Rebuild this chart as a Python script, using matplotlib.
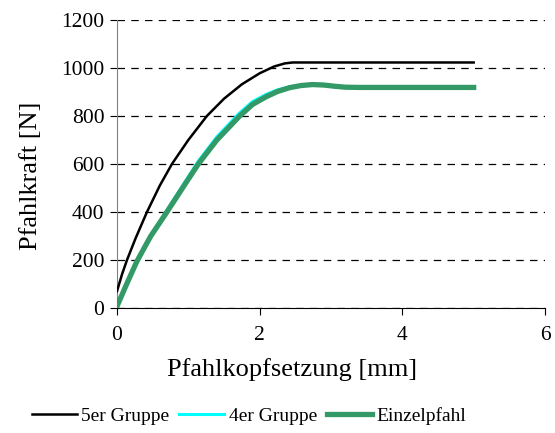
import matplotlib
matplotlib.use("Agg")
import matplotlib.pyplot as plt

plt.rcParams['font.family'] = ['Liberation Serif', 'DejaVu Serif']

# Load-settlement curves (settlement in mm, force in N)
x_5er = [0, 0.07, 0.14, 0.26, 0.42, 0.6, 0.77, 1.0, 1.26, 1.5, 1.75, 2.0, 2.2, 2.35, 2.46, 3.5, 5.0]
y_5er = [70, 140, 200, 290, 400, 510, 600, 700, 800, 872, 932, 978, 1006, 1019, 1023, 1023, 1023]

x_4er = [0, 0.14, 0.28, 0.47, 0.7, 0.93, 1.14, 1.4, 1.72, 1.9, 2.09, 2.25, 2.42, 2.58, 2.74, 2.9, 3.05, 3.2, 3.4, 5.0]
y_4er = [8, 107, 199, 302, 408, 515, 612, 713, 813, 860, 890, 909, 922, 928, 931, 929, 924, 920, 919, 919]

x_einzel = [0, 0.14, 0.28, 0.47, 0.7, 0.93, 1.14, 1.4, 1.72, 1.9, 2.09, 2.25, 2.42, 2.58, 2.74, 2.9, 3.05, 3.2, 3.4, 5.0]
y_einzel = [7, 103, 195, 298, 400, 505, 600, 700, 800, 848, 880, 902, 918, 927, 931, 929, 924, 920, 919, 919]

labels = ["5er Gruppe", "4er Gruppe", "Einzelpfahl"]
x_ticks = [0, 2, 4, 6]
y_ticks = [0, 200, 400, 600, 800, 1000, 1200]

fig = plt.figure(figsize=(5.55, 4.33), dpi=100)
ax = fig.add_axes([117/555, 1 - 308/433, (545-117)/555, (308-20)/433])

ax.plot(x_5er, y_5er, color='black', lw=1.8, label=labels[0], zorder=4,
        solid_joinstyle='round')
ax.plot(x_4er, y_4er, color='#00FFFF', lw=2.2, label=labels[1], zorder=3,
        solid_joinstyle='round')
ax.plot(x_einzel, y_einzel, color='#339966', lw=3.8, label=labels[2], zorder=3.5,
        solid_joinstyle='round')

ax.set_xlim(0, 6)
ax.set_ylim(0, 1200)
ax.set_xticks(x_ticks)
ax.set_yticks(y_ticks)
ax.yaxis.grid(True, linestyle=(0, (6, 5)), color='black', lw=0.9)
ax.set_axisbelow(True)

for s in ['top', 'right']:
    ax.spines[s].set_visible(False)
ax.spines['left'].set_color('#808080')
ax.spines['bottom'].set_color('black')
ax.tick_params(axis='both', labelsize=15.5, direction='out', length=5, colors='black')
ax.tick_params(axis='y', pad=4)
ax.tick_params(axis='x', pad=8)

ax.set_xlabel("Pfahlkopfsetzung [mm]", fontsize=19)
ax.xaxis.set_label_coords((292 - 117) / 428, -0.175)
ax.set_ylabel("Pfahlkraft [N]", fontsize=19)
ax.yaxis.set_label_coords((42 - 117) / 428, (308 - 176) / 288)

fig.legend(loc='center', bbox_to_anchor=(249/555, 1 - 416/433), ncol=3, frameon=False,
           fontsize=14, handlelength=2.3, columnspacing=0.5, handletextpad=0.25,
           borderpad=0)

fig.savefig("out.png", dpi=100)
